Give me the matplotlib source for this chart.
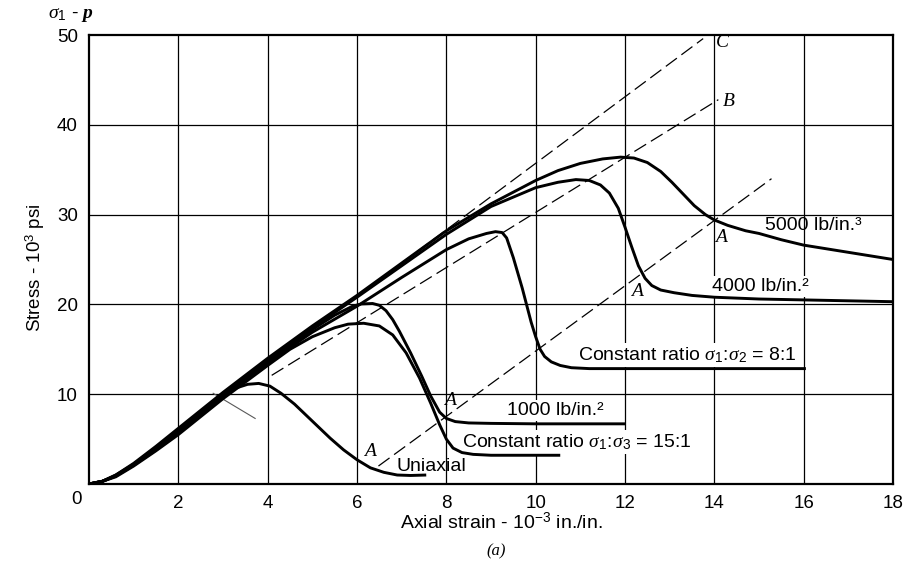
import matplotlib
matplotlib.use("Agg")
import matplotlib.pyplot as plt

plt.rcParams["font.family"] = ["Liberation Sans", "DejaVu Sans"]
plt.rcParams["mathtext.fontset"] = "custom"
plt.rcParams["mathtext.rm"] = "Liberation Sans"
plt.rcParams["mathtext.it"] = "Liberation Serif:italic"
plt.rcParams["mathtext.bf"] = "Liberation Serif:italic:bold"

# ---- stress-strain data (strain in 1e-3 in./in., stress in 1e3 psi) ----
x5000 = [0, 0.3, 0.6, 1.0, 1.5, 2.0, 2.5, 3.0, 4.0, 5.0, 6.0, 7.0, 8.0, 9.0, 10.0,
         10.5, 11.0, 11.5, 11.9, 12.2, 12.5, 12.8, 13.05, 13.3, 13.55, 13.8, 14.0,
         14.3, 14.7, 15.0, 15.5, 16.0, 17.0, 18.0]
y5000 = [0, 0.3, 1.0, 2.3, 4.2, 6.2, 8.2, 10.2, 14.0, 17.6, 21.0, 24.6, 28.2, 31.2,
         33.8, 34.9, 35.7, 36.2, 36.4, 36.3, 35.8, 34.8, 33.6, 32.3, 31.0, 30.0,
         29.4, 28.8, 28.2, 27.9, 27.2, 26.6, 25.8, 25.0]

x4000 = [0, 0.3, 0.6, 1.0, 1.5, 2.0, 2.5, 3.0, 4.0, 5.0, 6.0, 7.0, 8.0, 9.0, 10.0,
         10.5, 10.9, 11.2, 11.45, 11.65, 11.85, 12.0, 12.15, 12.3, 12.45, 12.6,
         12.8, 13.1, 13.5, 14.0, 15.0, 16.0, 17.0, 18.0]
y4000 = [0, 0.3, 0.9, 2.2, 4.0, 6.0, 8.0, 10.0, 13.8, 17.4, 20.8, 24.3, 27.8, 30.9,
         33.0, 33.6, 33.9, 33.8, 33.3, 32.4, 30.7, 28.6, 26.4, 24.3, 22.9, 22.1,
         21.6, 21.3, 21.0, 20.8, 20.6, 20.5, 20.4, 20.3]

x8to1 = [0, 0.3, 0.6, 1.0, 1.5, 2.0, 2.5, 3.0, 4.0, 5.0, 6.0, 7.0, 8.0, 8.5, 8.9,
         9.1, 9.25, 9.35, 9.5, 9.7, 9.9, 10.0, 10.1, 10.2, 10.35, 10.55, 10.8, 11.2,
         12.0, 14.0, 16.05]
y8to1 = [0, 0.3, 0.9, 2.1, 3.9, 5.8, 7.8, 9.8, 13.5, 16.9, 19.8, 23.0, 26.1, 27.3,
         27.9, 28.1, 28.0, 27.4, 25.2, 21.8, 18.0, 16.4, 15.0, 14.2, 13.6, 13.2,
         12.95, 12.85, 12.85, 12.85, 12.85]

x1000 = [0, 0.3, 0.6, 1.0, 1.5, 2.0, 2.5, 3.0, 4.0, 5.0, 5.5, 5.9, 6.1, 6.35, 6.5,
         6.65, 6.8, 6.95, 7.2, 7.45, 7.65, 7.85, 8.0, 8.2, 8.5, 9.0, 10.0, 11.0, 12.0]
y1000 = [0, 0.3, 1.0, 2.2, 4.0, 6.0, 8.0, 10.0, 13.7, 17.2, 18.8, 19.8, 20.05, 20.1,
         19.9, 19.3, 18.3, 17.0, 14.6, 12.0, 9.8, 8.0, 7.3, 6.95, 6.8, 6.75, 6.7,
         6.7, 6.7]

x15to1 = [0, 0.3, 0.6, 1.0, 1.5, 2.0, 2.5, 3.0, 4.0, 4.5, 5.0, 5.5, 5.8, 6.15, 6.5,
          6.8, 7.1, 7.4, 7.65, 7.85, 8.0, 8.15, 8.35, 8.6, 9.0, 10.0, 10.55]
y15to1 = [0, 0.3, 0.8, 2.0, 3.7, 5.5, 7.5, 9.5, 13.2, 15.0, 16.4, 17.4, 17.8, 17.9,
          17.6, 16.6, 14.6, 11.8, 9.0, 6.6, 5.0, 4.0, 3.5, 3.3, 3.2, 3.2, 3.2]

xuni = [0, 0.3, 0.6, 1.0, 1.5, 2.0, 2.5, 3.0, 3.3, 3.55, 3.8, 4.05, 4.3, 4.6, 5.0,
        5.4, 5.7, 6.0, 6.3, 6.6, 6.9, 7.2, 7.55]
yuni = [0, 0.3, 0.9, 2.1, 3.8, 5.7, 7.7, 9.7, 10.7, 11.1, 11.2, 10.9, 10.1, 8.9, 7.0,
        5.1, 3.8, 2.7, 1.8, 1.3, 1.0, 0.95, 1.0]

# dashed reference lines (end points)
lineC_x, lineC_y = [7.0, 13.75], [24.6, 49.6]
lineB_x, lineB_y = [4.09, 14.09], [12.1, 42.8]
lineA_x, lineA_y = [6.48, 15.28], [2.0, 34.0]
tangent_x, tangent_y = [2.78, 3.72], [10.1, 7.3]

x_ticks = [2, 4, 6, 8, 10, 12, 14, 16, 18]
y_ticks = [10, 20, 30, 40, 50]

W, H = 912, 566
fig = plt.figure(figsize=(W / 100, H / 100), dpi=100)
ax = fig.add_axes([89 / W, 1 - 484 / H, (893 - 89) / W, (484 - 35) / H])
ax.set_xlim(0, 18)
ax.set_ylim(0, 50)

# grid
for gx in x_ticks[:-1]:
    ax.axvline(gx, color="black", lw=0.9, zorder=1)
for gy in y_ticks[:-1]:
    ax.axhline(gy, color="black", lw=0.9, zorder=1)
for s in ax.spines.values():
    s.set_linewidth(1.6)

ax.set_xticks(x_ticks)
ax.set_yticks(y_ticks)
ax.tick_params(length=0, labelsize=13.5, pad=8)

curve_kw = dict(color="black", lw=2.1, zorder=6, solid_capstyle="butt",
                solid_joinstyle="round")
for xs, ys in [(x5000, y5000), (x4000, y4000), (x8to1, y8to1), (x1000, y1000),
               (x15to1, y15to1), (xuni, yuni)]:
    ax.plot(xs, ys, **curve_kw)

dash_kw = dict(color="black", lw=0.9, linestyle=(0, (11, 4.5)), zorder=3)
ax.plot(lineC_x, lineC_y, **dash_kw)
ax.plot(lineB_x, lineB_y, **dash_kw)
ax.plot(lineA_x, lineA_y, **dash_kw)
ax.plot(tangent_x, tangent_y, color="0.35", lw=0.8, zorder=3)

serif_it = dict(family="Liberation Serif", style="italic", fontsize=14)
ax.text(14.04, 49.2, "C", va="center", ha="left", **serif_it)
ax.text(14.2, 42.6, "B", va="center", ha="left", **serif_it)
for ax_x, ax_y in [(6.29, 3.6), (8.08, 9.35), (12.26, 21.4), (14.16, 27.5)]:
    ax.text(ax_x, ax_y, "A", va="center", ha="center", **serif_it)

lab_kw = dict(fontsize=14, va="center", ha="left", zorder=5)
box = dict(facecolor="white", edgecolor="none", pad=1.5)
ax.text(15.13, 28.8, "5000 lb/in.\u00b3", **lab_kw)
ax.text(13.94, 22.0, "4000 lb/in.\u00b2", bbox=box, **lab_kw)
ax.text(10.95, 14.4, r"Constant ratio $\sigma_1\!:\!\sigma_2$ = 8:1", bbox=box,
        **lab_kw)
ax.text(9.35, 8.15, "1000 lb/in.\u00b2", bbox=box, **lab_kw)
ax.text(8.34, 4.65, r"Constant ratio $\sigma_1\!:\!\sigma_3$ = 15:1", bbox=box,
        **lab_kw)
ax.text(6.89, 1.95, "Uniaxial", **lab_kw)

# axis titles
fig.text(501 / W, 1 - 522 / H, r"Axial strain - 10$^{-3}$ in./in.", fontsize=14,
         ha="center", va="center")
fig.text(496 / W, 1 - 551 / H, "(a)", family="Liberation Serif", style="italic",
         fontsize=12, ha="center", va="center")
fig.text(35 / W, 1 - 268 / H, r"Stress - 10$^{3}$ psi", fontsize=13.5,
         rotation=90, ha="center", va="center")
fig.text(48 / W, 1 - 15 / H, r"$\sigma_1$ - $\mathbf{p}$", fontsize=14,
         ha="left", va="center")
fig.text(77 / W, 1 - 499 / H, "0", fontsize=13.5, ha="center", va="center")

fig.savefig("out.png", dpi=100, facecolor="white")
